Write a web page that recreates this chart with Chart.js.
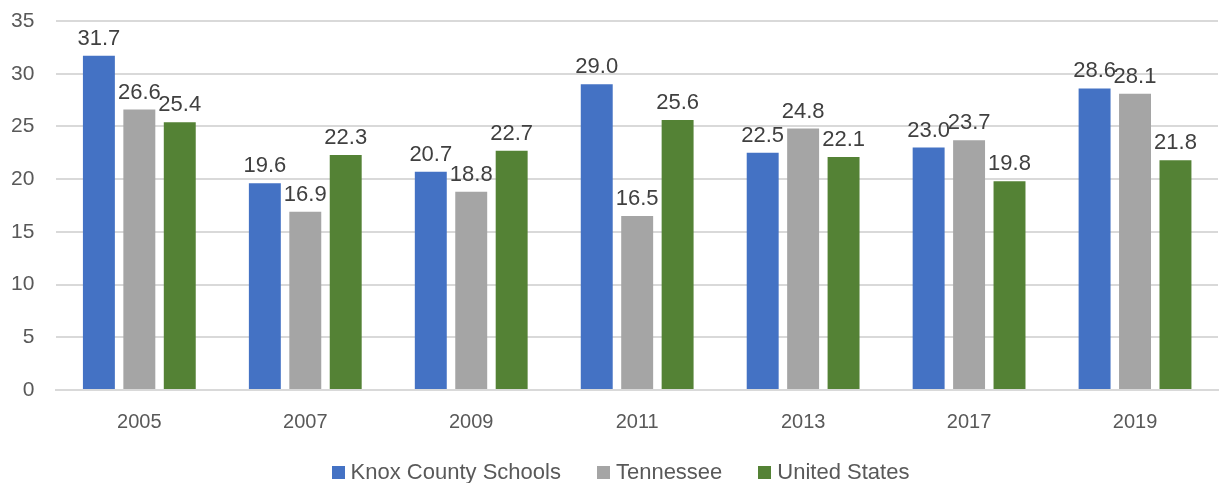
<!DOCTYPE html>
<html>
<head>
<meta charset="utf-8">
<script src="https://cdn.jsdelivr.net/npm/chart.js@4"></script>
<style>
  html, body { margin: 0; padding: 0; background: #fff; }
  #wrap { position: relative; width: 1225px; height: 483px; overflow: hidden; }
  #legend {
    position: absolute; left: 16px; right: 0; top: 459px;
    display: flex; justify-content: center;
    font: 22px "Liberation Sans", Arial, sans-serif; color: #595959;
    line-height: 26px; white-space: nowrap;
  }
  #legend span.item { display: inline-flex; align-items: center; margin: 0 18px; }
  #legend span.box { width: 13px; height: 13px; margin-right: 6px; display: inline-block; }
</style>
</head>
<body>
<div id="wrap">
  <canvas id="chart" width="1225" height="483"></canvas>
  <div id="legend"></div>
</div>
<script>
/* DATA */
const years = ['2005', '2007', '2009', '2011', '2013', '2017', '2019'];
const knox = [31.7, 19.6, 20.7, 29.0, 22.5, 23.0, 28.6];
const tennessee = [26.6, 16.9, 18.8, 16.5, 24.8, 23.7, 28.1];
const unitedStates = [25.4, 22.3, 22.7, 25.6, 22.1, 19.8, 21.8];

const FONT = '"Liberation Sans", Arial, sans-serif';

/* LABELS ABOVE BARS */
const valueLabels = {
  id: 'valueLabels',
  afterDatasetsDraw(chart) {
    const ctx = chart.ctx;
    ctx.save();
    ctx.font = '22px ' + FONT;
    ctx.fillStyle = '#404040';
    ctx.textAlign = 'center';
    ctx.textBaseline = 'alphabetic';
    chart.data.datasets.forEach((ds, i) => {
      chart.getDatasetMeta(i).data.forEach((bar, j) => {
        ctx.fillText(ds.data[j].toFixed(1), bar.x, bar.y - 11);
      });
    });
    ctx.restore();
  }
};

const ctx = document.getElementById('chart').getContext('2d');

const chart = new Chart(ctx, {
  type: 'bar',
  data: {
    labels: years,
    datasets: [
      { label: 'Knox County Schools', data: knox, backgroundColor: '#4472c4' },
      { label: 'Tennessee', data: tennessee, backgroundColor: '#a5a5a5' },
      { label: 'United States', data: unitedStates, backgroundColor: '#548235' }
    ]
  },
  options: {
    responsive: false,
    animation: false,
    categoryPercentage: 0.731,
    barPercentage: 0.79,
    layout: { padding: { top: 21, right: 7, left: -11, bottom: 29 } },
    scales: {
      x: {
        grid: { display: false, drawTicks: false },
        border: { color: '#d9d9d9', width: 2 },
        ticks: {
          color: '#595959',
          font: { family: FONT, size: 20 },
          padding: 20
        }
      },
      y: {
        min: 0,
        max: 35,
        afterFit(scale) { scale.paddingTop = 0; },
        ticks: {
          stepSize: 5,
          color: '#595959',
          font: { family: FONT, size: 21 },
          padding: 22
        },
        grid: { color: '#d9d9d9', lineWidth: 2, drawTicks: false },
        border: { display: false }
      }
    },
    plugins: {
      legend: { display: false },
      tooltip: { enabled: false }
    }
  },
  plugins: [valueLabels]
});

/* LEGENDA */
const legend = document.getElementById('legend');
chart.data.datasets.forEach(ds => {
  const item = document.createElement('span');
  item.className = 'item';
  item.innerHTML = `<span class="box" style="background:${ds.backgroundColor}"></span>${ds.label}`;
  legend.appendChild(item);
});
</script>
</body>
</html>
